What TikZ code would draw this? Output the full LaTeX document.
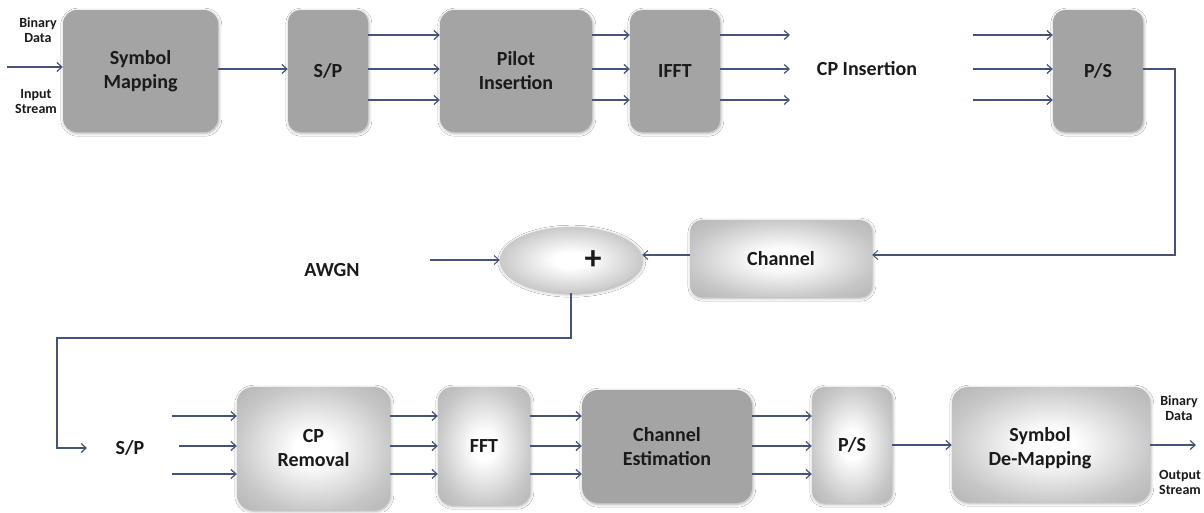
\documentclass[tikz,border=0pt]{standalone}
\usepackage{fontspec}
\setmainfont{Carlito}
\usetikzlibrary{arrows.meta,shapes.geometric,shadows.blur}
\definecolor{linec}{HTML}{44537A}
\definecolor{flatgray}{HTML}{A4A4A4}
\definecolor{edgegray}{HTML}{A2A2A2}
\definecolor{darkgray}{HTML}{989898}
\definecolor{midgray}{HTML}{C6C6C6}
\definecolor{txt}{HTML}{1A1A1A}
\pgfdeclareradialshading{glossy}{\pgfpoint{0bp}{0bp}}{color(0bp)=(white); color(6bp)=(white); color(26bp)=(midgray); color(46bp)=(edgegray); color(75bp)=(darkgray)}
\begin{document}
\begin{tikzpicture}[x=1pt,y=-1pt,
  lbl/.style={font=\fontsize{20}{24}\selectfont\bfseries, text=txt, align=center},
  small/.style={font=\fontsize{14}{15}\selectfont\bfseries, text=txt, align=center},
  softshadow/.style={blur shadow={shadow xshift=0.8pt, shadow yshift=-1.2pt, shadow blur radius=3pt, shadow opacity=35}},
  flatbox/.style={lbl, rectangle, rounded corners=14pt, fill=flatgray, inner sep=0pt, softshadow},
  glossbox/.style={lbl, rectangle, rounded corners=14pt, shading=glossy, inner sep=0pt, softshadow},
  arr/.style={draw=linec, line width=1.7pt, -{Straight Barb[length=5pt,width=9pt,line width=1.2pt]}},
  thinarr/.style={draw=linec, line width=1.2pt, -{Straight Barb[length=5pt,width=9pt,line width=1pt]}}]
\useasboundingbox (0,0) rectangle (1204,512);
\fill[white] (0,0) rectangle (1204,512);

% ---------- top row ----------
\node[flatbox, minimum width=155pt, minimum height=122pt] (sm) at (140.5,71) {Symbol\\Mapping};
\node[flatbox, minimum width=80pt, minimum height=122pt, rounded corners=12pt] (sp1) at (328,71) {S/P};
\node[flatbox, minimum width=152pt, minimum height=122pt] (pi) at (516,71) {Pilot\\Insertion};
\node[flatbox, minimum width=90pt, minimum height=122pt, rounded corners=12pt] (ifft) at (675,71) {IFFT};
\node[lbl] (cpi) at (867,69) {CP Insertion};
\node[flatbox, minimum width=90pt, minimum height=122pt, rounded corners=12pt] (ps1) at (1098,71) {P/S};

\node[small] (bd1) at (38,30) {Binary\\Data};
\node[small] (is1) at (36,102) {Input\\Stream};

\coordinate (in) at (7,67);
\draw[arr] (in) -- (sm.west |- in);
\draw[arr] (sm.east |- 0,69) -- (sp1.west |- 0,69);
\foreach \yy/\nm in {35/a,69/b,100/c}{
  \draw[arr] (sp1.east |- 0,\yy) -- (pi.west |- 0,\yy);
  \draw[arr] (pi.east |- 0,\yy) -- (ifft.west |- 0,\yy);
  \coordinate (ifo\nm) at (790,\yy);
  \draw[arr] (ifft.east |- 0,\yy) -- (ifo\nm);
  \coordinate (psi\nm) at (973,\yy);
  \draw[arr] (psi\nm) -- (ps1.west |- 0,\yy);
}

% ---------- middle row ----------
\node[glossbox, minimum width=182pt, minimum height=77pt, rounded corners=12pt] (ch) at (781,258.5) {Channel};
\node[ellipse, shading=glossy, minimum width=142pt, minimum height=66pt, inner sep=0pt, softshadow] (add) at (571,260) {};
\node[font=\fontsize{34}{34}\selectfont\bfseries, text=txt] (plus) at (593,260) {+};
\node[lbl] (awgn) at (332,270) {AWGN};
\coordinate (nz) at (430,260);

\coordinate (fb) at (1175,160);
\draw[thinarr] (ps1.east |- 0,69) -| (fb) |- (ch.east |- 0,255);
\draw[thinarr] (ch.west |- 0,255) -- (add.east |- 0,255);
\draw[thinarr] (nz) -- (add.west);

% ---------- bottom row ----------
\node[lbl] (sp2) at (130,448) {S/P};
\node[glossbox, minimum width=153pt, minimum height=123pt, rounded corners=16pt] (cpr) at (313.5,448.5) {CP\\Removal};
\node[glossbox, minimum width=92pt, minimum height=118pt] (fft) at (484,446) {FFT};
\node[flatbox, minimum width=170pt, minimum height=113pt, rounded corners=16pt] (ce) at (667,446.5) {Channel\\Estimation};
\node[glossbox, minimum width=80pt, minimum height=116pt, rounded corners=12pt] (ps2) at (852,445) {P/S};
\node[glossbox, minimum width=198pt, minimum height=115pt, rounded corners=16pt] (sdm) at (1051,444.5) {};
\node[lbl] (sdmt) at (1040,448) {Symbol\\De-Mapping};

\node[small] (bd2) at (1179,408) {Binary\\Data};
\node[small] (os2) at (1180,482) {Output\\Stream};

\coordinate (fb2) at (57,338);
\coordinate (sp2in) at (87,448);
\draw[arr, line width=1.4pt] (add.south) |- (fb2) |- (sp2in);

\foreach \yy/\nm/\xs in {416/a/172,446/b/179,474/c/172}{
  \coordinate (spo\nm) at (\xs,\yy);
  \draw[arr] (spo\nm) -- (cpr.west |- 0,\yy);
  \draw[arr] (cpr.east |- 0,\yy) -- (fft.west |- 0,\yy);
  \draw[arr] (fft.east |- 0,\yy) -- (ce.west |- 0,\yy);
  \draw[arr] (ce.east |- 0,\yy) -- (ps2.west |- 0,\yy);
}
\draw[arr] (ps2.east |- 0,445) -- (sdm.west |- 0,445);
\coordinate (out) at (1196,445);
\draw[arr] (sdm.east |- 0,445) -- (out);
\end{tikzpicture}
\end{document}
